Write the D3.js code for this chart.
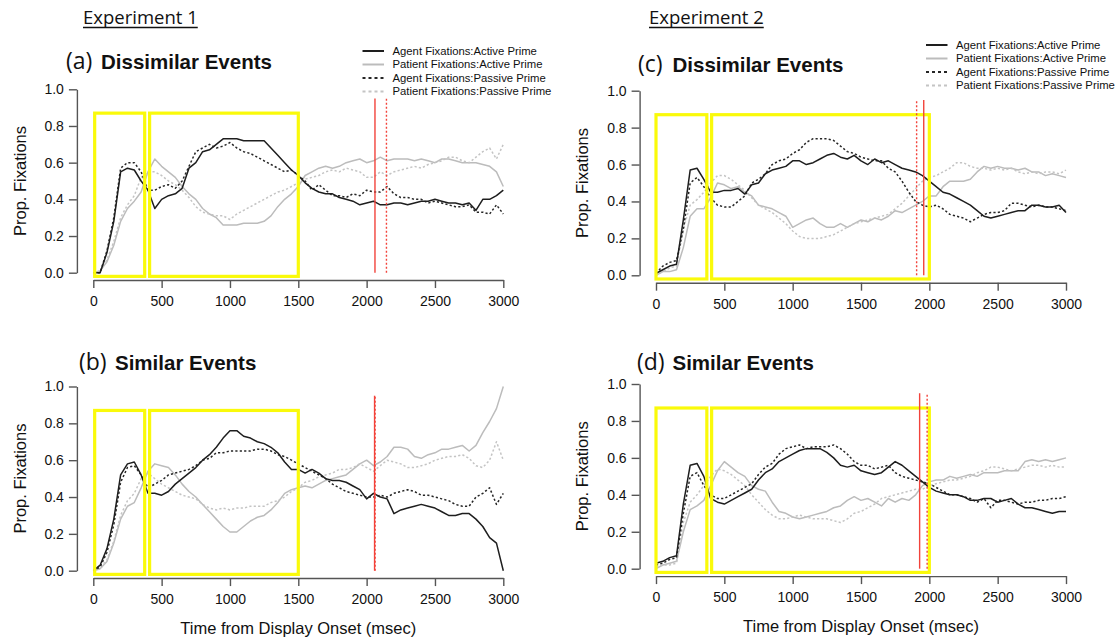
<!DOCTYPE html>
<html>
<head>
<meta charset="utf-8">
<script src="https://cdn.jsdelivr.net/npm/d3@7"></script>
<style>
  body { margin: 0; background: #fff; }
  svg { display: block; }
</style>
</head>
<body>
<div id="viz"></div>
<script>
/*** data (proportion of fixations, read every 50 ms) ***/
const timeMs = [0, 50, 100, 150, 200, 250, 300, 350, 400, 450,
  500, 550, 600, 650, 700, 750, 800, 850, 900, 950,
  1000, 1050, 1100, 1150, 1200, 1250, 1300, 1350, 1400, 1450,
  1500, 1550, 1600, 1650, 1700, 1750, 1800, 1850, 1900, 1950,
  2000, 2050, 2100, 2150, 2200, 2250, 2300, 2350, 2400, 2450,
  2500, 2550, 2600, 2650, 2700, 2750, 2800, 2850, 2900, 2950, 3000];

const seriesNames = ["Agent Fixations:Active Prime", "Patient Fixations:Active Prime",
  "Agent Fixations:Passive Prime", "Patient Fixations:Passive Prime"];

// (a) Experiment 1, dissimilar events
const aAgentActive = [0, 0, 0.11, 0.28, 0.55, 0.57, 0.56, 0.50, 0.45, 0.35,
  0.40, 0.42, 0.43, 0.46, 0.57, 0.60, 0.66, 0.67, 0.70, 0.73,
  0.73, 0.73, 0.72, 0.72, 0.72, 0.72, 0.68, 0.64, 0.60, 0.56,
  0.53, 0.49, 0.46, 0.44, 0.43, 0.43, 0.41, 0.40, 0.39, 0.37,
  0.38, 0.39, 0.37, 0.37, 0.38, 0.38, 0.37, 0.38, 0.39, 0.39,
  0.40, 0.39, 0.38, 0.38, 0.37, 0.38, 0.34, 0.40, 0.40, 0.42, 0.45];
const aPatientActive = [0, 0.01, 0.06, 0.15, 0.28, 0.35, 0.39, 0.44, 0.55, 0.62,
  0.58, 0.55, 0.52, 0.47, 0.43, 0.40, 0.35, 0.32, 0.30, 0.26,
  0.26, 0.26, 0.27, 0.27, 0.27, 0.28, 0.31, 0.36, 0.40, 0.43,
  0.47, 0.53, 0.55, 0.57, 0.58, 0.57, 0.58, 0.60, 0.61, 0.62,
  0.60, 0.61, 0.63, 0.61, 0.62, 0.62, 0.62, 0.61, 0.62, 0.61,
  0.60, 0.62, 0.62, 0.61, 0.60, 0.60, 0.60, 0.59, 0.58, 0.55, 0.47];
const aAgentPassive = [0, 0, 0.12, 0.30, 0.57, 0.60, 0.60, 0.55, 0.45, 0.45,
  0.47, 0.48, 0.46, 0.50, 0.58, 0.66, 0.68, 0.70, 0.68, 0.69,
  0.71, 0.68, 0.66, 0.65, 0.63, 0.61, 0.59, 0.57, 0.55, 0.56,
  0.53, 0.50, 0.45, 0.48, 0.45, 0.42, 0.42, 0.41, 0.43, 0.42,
  0.45, 0.44, 0.44, 0.47, 0.43, 0.41, 0.41, 0.40, 0.40, 0.38,
  0.39, 0.38, 0.37, 0.36, 0.36, 0.37, 0.33, 0.33, 0.32, 0.37, 0.32];
const aPatientPassive = [0, 0.01, 0.07, 0.17, 0.30, 0.37, 0.42, 0.52, 0.55, 0.55,
  0.53, 0.50, 0.48, 0.45, 0.41, 0.36, 0.33, 0.32, 0.31, 0.31,
  0.29, 0.32, 0.34, 0.36, 0.38, 0.40, 0.42, 0.44, 0.45, 0.47,
  0.49, 0.51, 0.52, 0.53, 0.55, 0.56, 0.55, 0.57, 0.56, 0.55,
  0.52, 0.52, 0.55, 0.53, 0.55, 0.56, 0.57, 0.58, 0.57, 0.59,
  0.60, 0.61, 0.63, 0.63, 0.61, 0.60, 0.63, 0.66, 0.68, 0.62, 0.70];

// (b) Experiment 1, similar events
const bAgentActive = [0, 0.03, 0.12, 0.28, 0.52, 0.58, 0.59, 0.52, 0.42, 0.42,
  0.41, 0.43, 0.47, 0.50, 0.53, 0.56, 0.60, 0.63, 0.67, 0.72,
  0.76, 0.76, 0.73, 0.72, 0.70, 0.69, 0.67, 0.64, 0.59, 0.55,
  0.55, 0.53, 0.55, 0.53, 0.50, 0.49, 0.49, 0.48, 0.46, 0.44,
  0.39, 0.42, 0.40, 0.39, 0.31, 0.33, 0.34, 0.35, 0.36, 0.35,
  0.34, 0.32, 0.30, 0.30, 0.31, 0.31, 0.28, 0.24, 0.18, 0.15, 0.0];
const bPatientActive = [0, 0.01, 0.05, 0.15, 0.28, 0.35, 0.37, 0.45, 0.54, 0.58,
  0.57, 0.56, 0.52, 0.47, 0.43, 0.40, 0.36, 0.32, 0.28, 0.24,
  0.21, 0.21, 0.24, 0.27, 0.29, 0.30, 0.33, 0.37, 0.42, 0.44,
  0.45, 0.46, 0.45, 0.47, 0.49, 0.50, 0.51, 0.52, 0.55, 0.58,
  0.60, 0.57, 0.59, 0.62, 0.67, 0.67, 0.66, 0.62, 0.61, 0.63,
  0.64, 0.66, 0.66, 0.67, 0.68, 0.65, 0.68, 0.75, 0.81, 0.88, 1.0];
const bAgentPassive = [0, 0.02, 0.10, 0.25, 0.48, 0.56, 0.57, 0.52, 0.45, 0.47,
  0.49, 0.52, 0.53, 0.54, 0.55, 0.57, 0.60, 0.61, 0.64, 0.64,
  0.65, 0.65, 0.65, 0.65, 0.66, 0.66, 0.65, 0.63, 0.62, 0.60,
  0.58, 0.56, 0.54, 0.52, 0.50, 0.47, 0.45, 0.43, 0.42, 0.41,
  0.40, 0.40, 0.41, 0.40, 0.42, 0.43, 0.44, 0.43, 0.41, 0.41,
  0.40, 0.39, 0.38, 0.36, 0.35, 0.35, 0.40, 0.42, 0.45, 0.36, 0.42];
const bPatientPassive = [0, 0.01, 0.06, 0.16, 0.30, 0.38, 0.42, 0.50, 0.53, 0.50,
  0.47, 0.45, 0.43, 0.41, 0.40, 0.39, 0.36, 0.34, 0.33, 0.34,
  0.33, 0.34, 0.34, 0.35, 0.35, 0.35, 0.37, 0.38, 0.40, 0.43,
  0.45, 0.48, 0.49, 0.51, 0.52, 0.53, 0.55, 0.55, 0.56, 0.58,
  0.56, 0.54, 0.57, 0.60, 0.59, 0.58, 0.56, 0.56, 0.57, 0.58,
  0.60, 0.61, 0.62, 0.62, 0.63, 0.61, 0.57, 0.56, 0.60, 0.70, 0.60];

// (c) Experiment 2, dissimilar events
const cAgentActive = [0.01, 0.03, 0.05, 0.06, 0.30, 0.57, 0.58, 0.52, 0.45, 0.45,
  0.46, 0.46, 0.47, 0.44, 0.49, 0.50, 0.55, 0.57, 0.58, 0.59,
  0.62, 0.62, 0.60, 0.61, 0.63, 0.65, 0.66, 0.64, 0.63, 0.65,
  0.62, 0.60, 0.63, 0.61, 0.62, 0.60, 0.58, 0.57, 0.56, 0.54,
  0.51, 0.48, 0.45, 0.44, 0.42, 0.40, 0.38, 0.35, 0.32, 0.31,
  0.32, 0.33, 0.34, 0.35, 0.35, 0.38, 0.38, 0.37, 0.37, 0.38, 0.34];
const cPatientActive = [0, 0.02, 0.02, 0.03, 0.15, 0.32, 0.36, 0.36, 0.42, 0.50,
  0.49, 0.47, 0.48, 0.45, 0.43, 0.38, 0.37, 0.36, 0.34, 0.32,
  0.26, 0.28, 0.30, 0.31, 0.28, 0.26, 0.26, 0.28, 0.26, 0.28,
  0.30, 0.29, 0.31, 0.30, 0.32, 0.35, 0.34, 0.36, 0.38, 0.40,
  0.43, 0.43, 0.48, 0.51, 0.51, 0.51, 0.52, 0.56, 0.59, 0.58,
  0.59, 0.58, 0.58, 0.57, 0.58, 0.56, 0.56, 0.54, 0.55, 0.54, 0.53];
const cAgentPassive = [0.01, 0.05, 0.07, 0.08, 0.25, 0.50, 0.53, 0.48, 0.42, 0.38,
  0.37, 0.37, 0.40, 0.43, 0.50, 0.52, 0.55, 0.60, 0.62, 0.63,
  0.66, 0.68, 0.72, 0.74, 0.74, 0.74, 0.73, 0.70, 0.67, 0.66,
  0.64, 0.63, 0.62, 0.62, 0.58, 0.56, 0.51, 0.45, 0.40, 0.38,
  0.37, 0.38, 0.36, 0.33, 0.32, 0.31, 0.29, 0.31, 0.33, 0.34,
  0.34, 0.35, 0.39, 0.39, 0.38, 0.37, 0.38, 0.37, 0.37, 0.36, 0.35];
const cPatientPassive = [0, 0.02, 0.04, 0.05, 0.25, 0.38, 0.41, 0.45, 0.50, 0.54,
  0.54, 0.52, 0.49, 0.46, 0.42, 0.38, 0.36, 0.34, 0.31, 0.28,
  0.24, 0.21, 0.20, 0.20, 0.20, 0.21, 0.22, 0.24, 0.26, 0.28,
  0.29, 0.30, 0.31, 0.32, 0.33, 0.36, 0.39, 0.43, 0.47, 0.51,
  0.53, 0.54, 0.56, 0.58, 0.61, 0.61, 0.59, 0.58, 0.58, 0.57,
  0.58, 0.57, 0.58, 0.56, 0.55, 0.56, 0.55, 0.56, 0.56, 0.55, 0.57];

// (d) Experiment 2, similar events
const dAgentActive = [0.03, 0.04, 0.06, 0.07, 0.35, 0.56, 0.57, 0.50, 0.38, 0.36,
  0.35, 0.37, 0.39, 0.41, 0.43, 0.48, 0.52, 0.54, 0.58, 0.60,
  0.62, 0.64, 0.65, 0.65, 0.65, 0.63, 0.60, 0.56, 0.55, 0.56,
  0.53, 0.52, 0.51, 0.52, 0.55, 0.58, 0.56, 0.53, 0.50, 0.47,
  0.44, 0.42, 0.41, 0.40, 0.40, 0.39, 0.37, 0.37, 0.38, 0.38,
  0.36, 0.37, 0.38, 0.35, 0.33, 0.33, 0.32, 0.31, 0.30, 0.31, 0.31];
const dPatientActive = [0, 0.02, 0.03, 0.04, 0.20, 0.32, 0.34, 0.37, 0.45, 0.53,
  0.58, 0.55, 0.52, 0.50, 0.45, 0.43, 0.42, 0.36, 0.31, 0.30,
  0.28, 0.27, 0.28, 0.29, 0.30, 0.31, 0.33, 0.34, 0.37, 0.39,
  0.37, 0.38, 0.36, 0.34, 0.38, 0.36, 0.38, 0.37, 0.40, 0.45,
  0.47, 0.48, 0.48, 0.50, 0.49, 0.50, 0.51, 0.50, 0.52, 0.52,
  0.52, 0.53, 0.53, 0.53, 0.58, 0.59, 0.58, 0.59, 0.58, 0.59, 0.60];
const dAgentPassive = [0.02, 0.03, 0.05, 0.06, 0.30, 0.50, 0.52, 0.45, 0.40, 0.38,
  0.38, 0.40, 0.42, 0.44, 0.46, 0.51, 0.55, 0.57, 0.62, 0.65,
  0.66, 0.67, 0.65, 0.66, 0.66, 0.66, 0.67, 0.65, 0.62, 0.58,
  0.56, 0.56, 0.54, 0.55, 0.56, 0.52, 0.50, 0.49, 0.48, 0.47,
  0.46, 0.44, 0.42, 0.40, 0.40, 0.39, 0.38, 0.36, 0.38, 0.33,
  0.37, 0.37, 0.36, 0.35, 0.36, 0.36, 0.37, 0.37, 0.38, 0.38, 0.39];
const dPatientPassive = [0.01, 0.02, 0.02, 0.03, 0.25, 0.36, 0.40, 0.45, 0.50, 0.54,
  0.53, 0.51, 0.48, 0.45, 0.40, 0.36, 0.32, 0.29, 0.27, 0.27,
  0.28, 0.29, 0.28, 0.27, 0.27, 0.27, 0.26, 0.25, 0.27, 0.30,
  0.31, 0.33, 0.35, 0.38, 0.39, 0.40, 0.41, 0.42, 0.43, 0.43,
  0.45, 0.46, 0.47, 0.48, 0.48, 0.49, 0.50, 0.52, 0.53, 0.55,
  0.55, 0.54, 0.53, 0.54, 0.55, 0.56, 0.56, 0.55, 0.56, 0.55, 0.55];

// analysis windows (yellow boxes, ms) and onset markers (red lines, ms)
const windowStarts = { a: [10, 412], b: [10, 412], c: [0, 407], d: [0, 407] };
const windowEnds   = { a: [376, 1500], b: [376, 1500], c: [372, 2000], d: [372, 2000] };
const windowTop = 0.87, windowBottom = -0.02;
const onsetActive  = { a: 2061, b: 2058, c: 1959, d: 1929 };
const onsetPassive = { a: 2145, b: 2062, c: 1907, d: 1984 };
const onsetTop = 0.95;

const yTicks = [0, 0.2, 0.4, 0.6, 0.8, 1.0];
const xTicks = [0, 500, 1000, 1500, 2000, 2500, 3000];

/*** layout ***/
const width = 1118, height = 641;
const panels = [
  { key: "a", label: "(a)", name: "Dissimilar Events", x0: 93.3, x1: 503.3, yTop: 89.3, yBot: 272.7,
    labelX: 66, titleY: 68.5, nameX: 101, legend: { x: 362.5, y: 51 }, xTitle: false },
  { key: "b", label: "(b)", name: "Similar Events", x0: 93.3, x1: 503.3, yTop: 386.5, yBot: 570.7,
    labelX: 79, titleY: 370, nameX: 115, legend: null, xTitle: true },
  { key: "c", label: "(c)", name: "Dissimilar Events", x0: 656, x1: 1066, yTop: 90.7, yBot: 275.3,
    labelX: 638, titleY: 71.5, nameX: 672.5, legend: { x: 926, y: 45 }, xTitle: false },
  { key: "d", label: "(d)", name: "Similar Events", x0: 656, x1: 1066, yTop: 384, yBot: 568.7,
    labelX: 637, titleY: 370, nameX: 672.5, legend: null, xTitle: true }
];
const seriesByPanel = {
  a: [aAgentActive, aPatientActive, aAgentPassive, aPatientPassive],
  b: [bAgentActive, bPatientActive, bAgentPassive, bPatientPassive],
  c: [cAgentActive, cPatientActive, cAgentPassive, cPatientPassive],
  d: [dAgentActive, dPatientActive, dAgentPassive, dPatientPassive]
};
// order matches seriesNames
const seriesStyle = [
  { color: "#1e1e1e", dash: null },
  { color: "#bcbcbc", dash: null },
  { color: "#262626", dash: "2.2,2.2" },
  { color: "#c4c4c4", dash: "2.2,2.2" }
];
const drawOrder = [1, 3, 2, 0];

const svg = d3.select("#viz")
  .append("svg")
  .attr("width", width)
  .attr("height", height)
  .style("font-family", "'Liberation Sans', Arial, sans-serif");

/*** experiment headers ***/
[["Experiment 1", 83], ["Experiment 2", 649]].forEach(([txt, x]) => {
  const t = svg.append("text")
    .attr("x", x)
    .attr("y", 24)
    .attr("font-family", "'Open Sans', sans-serif")
    .attr("font-size", 18.5)
    .attr("fill", "#111")
    .text(txt);
  const w = t.node().getComputedTextLength();
  svg.append("line")
    .attr("x1", x).attr("x2", x + w)
    .attr("y1", 27.5).attr("y2", 27.5)
    .attr("stroke", "#111")
    .attr("stroke-width", 1.3);
});

function drawPanel(p) {
  const x = d3.scaleLinear().domain([0, 3000]).range([p.x0, p.x1]);
  const y = d3.scaleLinear().domain([0, 1]).range([p.yBot, p.yTop]);
  // R style: axes sit 4% outside the data range
  const axisX = x(-120), axisY = y(-0.04);

  const g = svg.append("g").attr("class", "panel-" + p.key);

  // title
  g.append("text")
    .attr("x", p.labelX)
    .attr("y", p.titleY)
    .attr("font-family", "'Open Sans', sans-serif")
    .attr("font-size", 23)
    .attr("fill", "#111")
    .text(p.label);
  g.append("text")
    .attr("x", p.nameX)
    .attr("y", p.titleY)
    .attr("font-size", 20.5)
    .attr("font-weight", "bold")
    .attr("fill", "#111")
    .text(p.name);

  // axes
  const yAxis = g.append("g")
    .attr("transform", `translate(${axisX},0)`)
    .call(d3.axisLeft(y).tickValues(yTicks).tickFormat(d3.format(".1f")).tickSize(8).tickSizeOuter(0).tickPadding(5));
  const xAxis = g.append("g")
    .attr("transform", `translate(0,${axisY})`)
    .call(d3.axisBottom(x).tickValues(xTicks).tickFormat(d3.format("d")).tickSize(8).tickSizeOuter(0).tickPadding(8));
  [yAxis, xAxis].forEach(ax => {
    ax.selectAll(".domain, line").attr("stroke", "#555").attr("stroke-width", 1.4);
    ax.selectAll("text")
      .attr("font-size", 14)
      .attr("font-family", "'Liberation Sans', Arial, sans-serif")
      .attr("fill", "#111");
  });

  g.append("text")
    .attr("transform", `translate(${axisX - 57},${(p.yTop + p.yBot) / 2}) rotate(-90)`)
    .attr("text-anchor", "middle")
    .attr("dy", "0.35em")
    .attr("font-size", 16.5)
    .attr("fill", "#111")
    .text("Prop. Fixations");

  if (p.xTitle) {
    g.append("text")
      .attr("x", (p.x0 + p.x1) / 2)
      .attr("y", axisY + 56)
      .attr("text-anchor", "middle")
      .attr("font-size", 16.5)
      .attr("fill", "#111")
      .text("Time from Display Onset (msec)");
  }

  // fixation curves
  const line = d3.line()
    .x((d, i) => x(timeMs[i]))
    .y(d => y(d));
  drawOrder.forEach(s => {
    g.append("path")
      .datum(seriesByPanel[p.key][s])
      .attr("d", line)
      .attr("fill", "none")
      .attr("stroke", seriesStyle[s].color)
      .attr("stroke-width", 1.5)
      .attr("stroke-linejoin", "round")
      .attr("stroke-dasharray", seriesStyle[s].dash);
  });

  // yellow analysis windows
  g.append("g")
    .selectAll("rect")
    .data(windowStarts[p.key].map((s, i) => [s, windowEnds[p.key][i]]))
    .join("rect")
    .attr("x", d => x(d[0]))
    .attr("width", d => x(d[1]) - x(d[0]))
    .attr("y", y(windowTop))
    .attr("height", y(windowBottom) - y(windowTop))
    .attr("fill", "none")
    .attr("stroke", "#fafa0a")
    .attr("stroke-width", 3.2);

  // red onset markers
  g.append("line")
    .attr("x1", x(onsetActive[p.key])).attr("x2", x(onsetActive[p.key]))
    .attr("y1", y(0)).attr("y2", y(onsetTop))
    .attr("stroke", "#f2433b")
    .attr("stroke-width", 1.4);
  g.append("line")
    .attr("x1", x(onsetPassive[p.key])).attr("x2", x(onsetPassive[p.key]))
    .attr("y1", y(0)).attr("y2", y(onsetTop))
    .attr("stroke", "#f2433b")
    .attr("stroke-width", 1.4)
    .attr("stroke-dasharray", "2,2");

  // legend
  if (p.legend) {
    const lg = g.append("g").attr("transform", `translate(${p.legend.x},${p.legend.y})`);
    const rows = lg.selectAll("g")
      .data(seriesNames)
      .join("g")
      .attr("transform", (d, i) => `translate(0,${i * 13.5})`);
    rows.append("line")
      .attr("x1", 0).attr("x2", 21.5)
      .attr("stroke", (d, i) => seriesStyle[i].color)
      .attr("stroke-width", 2)
      .attr("stroke-dasharray", (d, i) => seriesStyle[i].dash ? "3,3" : null);
    rows.append("text")
      .attr("x", 30)
      .attr("dy", "0.35em")
      .attr("font-size", 11.3)
      .attr("fill", "#111")
      .text(d => d);
  }
}

panels.forEach(drawPanel);
</script>
</body>
</html>
